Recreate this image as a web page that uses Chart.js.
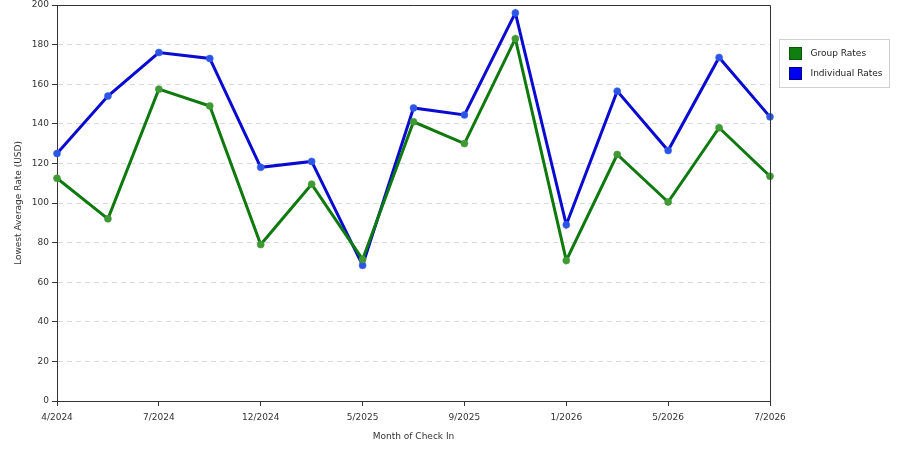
<!DOCTYPE html>
<html>
<head>
<meta charset="utf-8">
<script src="https://cdn.jsdelivr.net/npm/chart.js@4/dist/chart.umd.min.js"></script>
<style>
  html, body { margin: 0; padding: 0; background: #fff; }
  #wrap { width: 900px; height: 450px; position: relative; }
</style>
</head>
<body>
<div id="wrap"><canvas id="rates"></canvas></div>
<script>
// month labels (only every other point is labelled on the axis)
const months = ['4/2024', '', '7/2024', '', '12/2024', '', '5/2025', '', '9/2025', '', '1/2026', '', '5/2026', '', '7/2026'];
const groupRates = [112.5, 92, 157.5, 149, 79, 109.5, 71.5, 141, 130, 183, 71, 124.5, 100.5, 138, 113.5];
const individualRates = [125, 154, 176, 173, 118, 121, 68.5, 148, 144.5, 196, 89, 156.5, 126.5, 173.5, 143.5];
const yTicks = [0, 20, 40, 60, 80, 100, 120, 140, 160, 180, 200];

const FONT = 'DejaVu Sans';
const swatches = [
  { fill: '#0f7f0f', border: '#0a560a' },
  { fill: '#0000f0', border: '#00008a' }
];

// box around plot + legend on the right
const framePlugin = {
  id: 'frame',
  afterDraw(chart) {
    const { ctx, chartArea: a } = chart;
    ctx.save();
    ctx.strokeStyle = '#333';
    ctx.lineWidth = 1;
    ctx.beginPath();
    ctx.moveTo(a.left, a.top + 0.5);
    ctx.lineTo(a.right + 0.5, a.top + 0.5);
    ctx.lineTo(a.right + 0.5, a.bottom);
    ctx.stroke();

    // legend box
    const lx = a.right + 9.5, ly = 39.5;
    ctx.strokeStyle = '#d0d0d0';
    ctx.fillStyle = '#fff';
    ctx.fillRect(lx, ly, 110, 48);
    ctx.strokeRect(lx, ly, 110, 48);
    ctx.font = '9px "' + FONT + '"';
    ctx.textBaseline = 'middle';
    chart.data.datasets.forEach((ds, i) => {
      const sy = ly + 8 + i * 20;
      ctx.fillStyle = swatches[i].fill;
      ctx.fillRect(lx + 10, sy, 12, 12);
      ctx.strokeStyle = swatches[i].border;
      ctx.strokeRect(lx + 10, sy, 12, 12);
      ctx.fillStyle = '#222';
      ctx.fillText(ds.label, lx + 31, sy + 6.5);
    });
    ctx.restore();
  }
};

new Chart(document.getElementById('rates'), {
  type: 'line',
  data: {
    labels: months,
    datasets: [{
      label: 'Group Rates',
      data: groupRates,
      borderColor: '#0e7a0e',
      borderWidth: 3,
      pointRadius: 3.5,
      pointBackgroundColor: '#3f9a34',
      pointBorderColor: 'rgba(70,150,60,0.6)',
      pointBorderWidth: 1,
      tension: 0,
      clip: false
    }, {
      label: 'Individual Rates',
      data: individualRates,
      borderColor: '#0a0ad0',
      borderWidth: 3,
      pointRadius: 3.5,
      pointBackgroundColor: '#2a55e6',
      pointBorderColor: 'rgba(60,100,235,0.6)',
      pointBorderWidth: 1,
      tension: 0,
      clip: false
    }]
  },
  options: {
    responsive: true,
    maintainAspectRatio: false,
    animation: false,
    layout: { padding: { top: 0, right: 130, left: 0, bottom: 0 } },
    plugins: {
      legend: { display: false },
      title: { display: false },
      tooltip: { enabled: false }
    },
    scales: {
      x: {
        offset: false,
        afterFit: (scale) => { scale.height = 49; },
        border: { color: '#333', width: 1 },
        grid: {
          drawOnChartArea: false,
          drawTicks: true,
          tickLength: 5,
          tickColor: (ctx) => (ctx.tick && ctx.tick.label) ? '#333' : 'rgba(0,0,0,0)'
        },
        ticks: {
          autoSkip: false,
          maxRotation: 0,
          padding: 6,
          color: '#333',
          font: { family: FONT, size: 9 }
        },
        title: {
          display: true,
          text: 'Month of Check In',
          color: '#333',
          font: { family: FONT, size: 9 },
          padding: { top: 0, bottom: 8 }
        }
      },
      y: {
        min: 0,
        max: 200,
        afterFit: (scale) => { scale.width = 57; scale.paddingTop = 4.5; scale.paddingBottom = 0; },
        afterBuildTicks: (scale) => { scale.ticks = yTicks.map(v => ({ value: v })); },
        border: { color: '#333', width: 1, dash: [5, 4] },
        grid: {
          color: '#dadada',
          tickBorderDash: [],
          tickColor: '#333',
          tickLength: 5
        },
        ticks: {
          padding: 3,
          color: '#333',
          font: { family: FONT, size: 9 }
        },
        title: {
          display: true,
          text: 'Lowest Average Rate (USD)',
          color: '#333',
          font: { family: FONT, size: 9 },
          padding: { top: 13, bottom: 0 }
        }
      }
    }
  },
  plugins: [framePlugin]
});
</script>
</body>
</html>
